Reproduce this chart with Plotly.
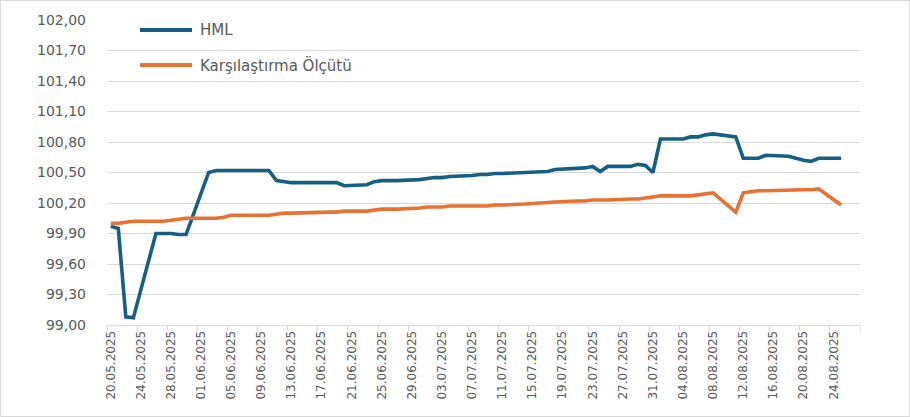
import plotly.graph_objects as go

# Valuation dates (business days, holidays excluded)
dates = [
    "2025-05-20", "2025-05-21", "2025-05-22", "2025-05-23", "2025-05-26", "2025-05-27",
    "2025-05-28", "2025-05-29", "2025-05-30", "2025-06-02", "2025-06-03", "2025-06-04",
    "2025-06-05", "2025-06-10", "2025-06-11", "2025-06-12", "2025-06-13", "2025-06-16",
    "2025-06-17", "2025-06-18", "2025-06-19", "2025-06-20", "2025-06-23", "2025-06-24",
    "2025-06-25", "2025-06-26", "2025-06-27", "2025-06-30", "2025-07-01", "2025-07-02",
    "2025-07-03", "2025-07-04", "2025-07-07", "2025-07-08", "2025-07-09", "2025-07-10",
    "2025-07-11", "2025-07-14", "2025-07-16", "2025-07-17", "2025-07-18", "2025-07-21",
    "2025-07-22", "2025-07-23", "2025-07-24", "2025-07-25", "2025-07-28", "2025-07-29",
    "2025-07-30", "2025-07-31", "2025-08-01", "2025-08-04", "2025-08-05", "2025-08-06",
    "2025-08-07", "2025-08-08", "2025-08-11", "2025-08-12", "2025-08-13", "2025-08-14",
    "2025-08-15", "2025-08-18", "2025-08-19", "2025-08-20", "2025-08-21", "2025-08-22",
    "2025-08-25",
]

hml = [
    99.97, 99.95, 99.08, 99.07, 99.90, 99.90,
    99.90, 99.89, 99.89, 100.50, 100.52, 100.52,
    100.52, 100.52, 100.42, 100.41, 100.40, 100.40,
    100.40, 100.40, 100.40, 100.37, 100.38, 100.41,
    100.42, 100.42, 100.42, 100.43, 100.44, 100.45,
    100.45, 100.46, 100.47, 100.48, 100.48, 100.49,
    100.49, 100.50, 100.51, 100.51, 100.53, 100.54,
    100.545, 100.56, 100.51, 100.56, 100.56, 100.58,
    100.57, 100.50, 100.83, 100.83, 100.85, 100.85,
    100.87, 100.88, 100.85, 100.64, 100.64, 100.64,
    100.67, 100.66, 100.64, 100.62, 100.61, 100.64,
    100.64,
]

benchmark = [
    100.00, 100.00, 100.01, 100.02, 100.02, 100.02,
    100.03, 100.04, 100.05, 100.05, 100.05, 100.06,
    100.08, 100.08, 100.09, 100.10, 100.10, 100.11,
    100.11, 100.11, 100.11, 100.12, 100.12, 100.13,
    100.14, 100.14, 100.14, 100.15, 100.16, 100.16,
    100.16, 100.17, 100.17, 100.17, 100.17, 100.18,
    100.18, 100.19, 100.20, 100.21, 100.21, 100.22,
    100.22, 100.23, 100.23, 100.23, 100.24, 100.24,
    100.25, 100.26, 100.27, 100.27, 100.27, 100.28,
    100.29, 100.30, 100.11, 100.30, 100.31, 100.32,
    100.32, 100.33, 100.33, 100.33, 100.33, 100.34,
    100.18,
]

series_names = ["HML", "Karşılaştırma Ölçütü"]
series_colors = ["#156082", "#E97132"]

# each day is drawn at the middle of its slot on the date axis
x_mid = [d + "T12:00:00" for d in dates]

DAY_MS = 86400000
FONT = "DejaVu Sans"
TXT = "#595959"
GRID = "#d9d9d9"

# plot area in pixels
W, H = 910, 417
L, R, T, B = 107, 50, 20, 92
PW, PH = W - L - R, H - T - B

fig = go.Figure()
for name, vals, col in zip(series_names, [hml, benchmark], series_colors):
    fig.add_trace(go.Scatter(
        x=x_mid, y=vals, mode="lines", name=name,
        line=dict(color=col, width=3.6),
        showlegend=False,
    ))


def px_x(p):
    return (p - L) / PW


def px_y(p):
    return (H - B - p) / PH


shapes = []
annotations = []
# hand-placed legend with long line samples
for i, (name, col) in enumerate(zip(series_names, series_colors)):
    yy = 30 + 35 * i
    shapes.append(dict(type="line", xref="paper", yref="paper",
                       x0=px_x(140), x1=px_x(192), y0=px_y(yy), y1=px_y(yy),
                       line=dict(color=col, width=4)))
    annotations.append(dict(xref="paper", yref="paper", x=px_x(198), y=px_y(yy),
                            text=name, showarrow=False, xanchor="left", yanchor="middle",
                            font=dict(family=FONT, size=15, color=TXT)))

# outer chart border
shapes.append(dict(type="rect", xref="paper", yref="paper",
                   x0=px_x(0.5), x1=px_x(W - 0.5), y0=px_y(H - 0.5), y1=px_y(0.5),
                   line=dict(color=GRID, width=1), fillcolor="rgba(0,0,0,0)", layer="below"))

fig.update_layout(
    width=W, height=H,
    margin=dict(l=L, r=R, t=T, b=B),
    paper_bgcolor="white", plot_bgcolor="white",
    separators=",.",
    shapes=shapes, annotations=annotations,
    xaxis=dict(
        type="date",
        range=["2025-05-20", "2025-08-28"],
        tick0="2025-05-20 12:00", dtick=4 * DAY_MS,
        tickformat="%d.%m.%Y", tickangle=-90,
        ticks="", showgrid=False,
        showline=True, linecolor=GRID, linewidth=1,
        tickfont=dict(family=FONT, size=12, color=TXT),
        minor=dict(tick0="2025-05-20", dtick=4 * DAY_MS, ticks="outside",
                   ticklen=5, tickcolor=GRID, tickwidth=1, showgrid=False),
        fixedrange=True,
    ),
    yaxis=dict(
        range=[99.0, 102.0], tick0=99.0, dtick=0.3, tickformat=".2f",
        showgrid=True, gridcolor=GRID, gridwidth=1,
        zeroline=False, showline=False, ticks="",
        ticklabelstandoff=20,
        tickfont=dict(family=FONT, size=14, color=TXT),
        fixedrange=True,
    ),
)

fig.write_html("out.html")
